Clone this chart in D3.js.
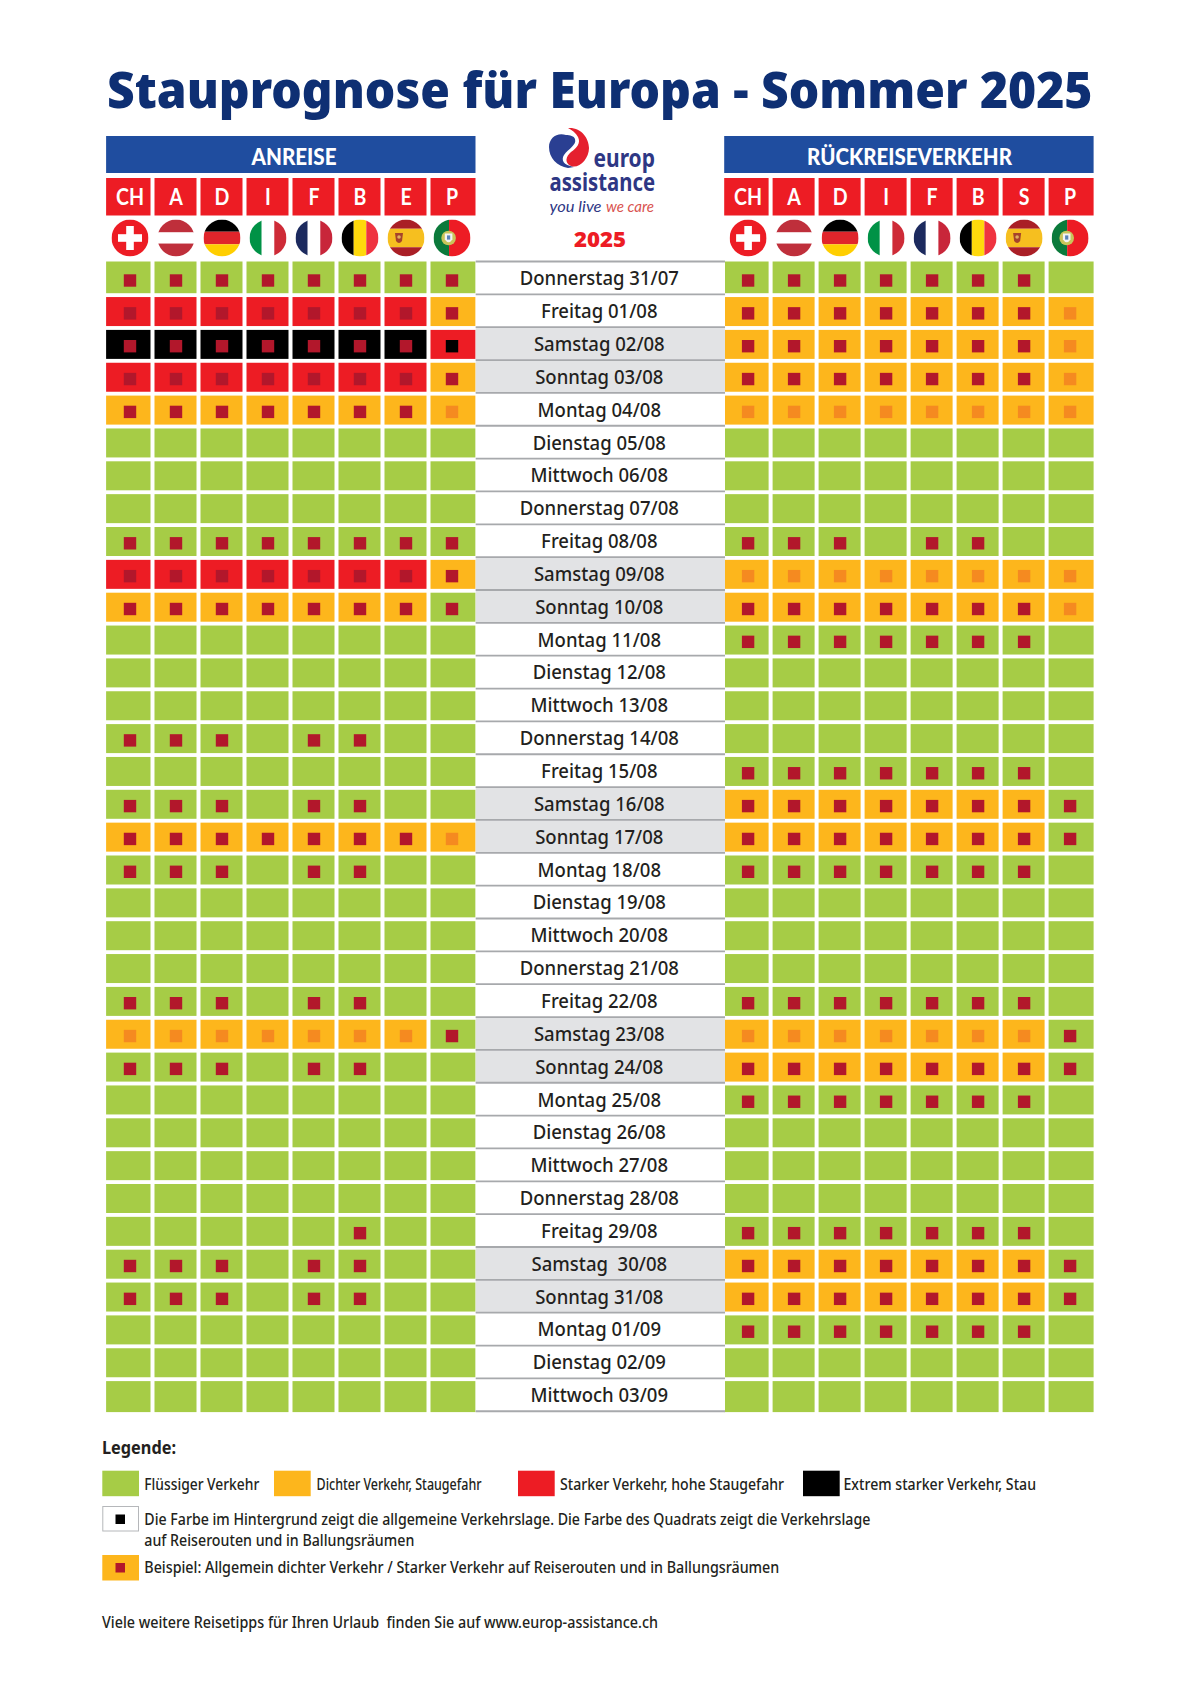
<!DOCTYPE html>
<html lang="de">
<head>
<meta charset="utf-8">
<title>Stauprognose für Europa - Sommer 2025</title>
<script src="https://cdn.jsdelivr.net/npm/d3@7"></script>
<style>
	html, body { margin: 0; padding: 0; background: #fff; }
	svg { display: block; }
	text { font-family: "Noto Sans", sans-serif; fill: #231f20; }
</style>
</head>
<body>
<div class="chart"></div>
<script>
// days, one row each
var days = [
	'Donnerstag 31/07', 'Freitag 01/08', 'Samstag 02/08', 'Sonntag 03/08', 'Montag 04/08',
	'Dienstag 05/08', 'Mittwoch 06/08', 'Donnerstag 07/08', 'Freitag 08/08', 'Samstag 09/08',
	'Sonntag 10/08', 'Montag 11/08', 'Dienstag 12/08', 'Mittwoch 13/08', 'Donnerstag 14/08',
	'Freitag 15/08', 'Samstag 16/08', 'Sonntag 17/08', 'Montag 18/08', 'Dienstag 19/08',
	'Mittwoch 20/08', 'Donnerstag 21/08', 'Freitag 22/08', 'Samstag 23/08', 'Sonntag 24/08',
	'Montag 25/08', 'Dienstag 26/08', 'Mittwoch 27/08', 'Donnerstag 28/08', 'Freitag 29/08',
	'Samstag  30/08', 'Sonntag 31/08', 'Montag 01/09', 'Dienstag 02/09', 'Mittwoch 03/09'
];

var anreiseCountries = ['CH', 'A', 'D', 'I', 'F', 'B', 'E', 'P'];
var rueckCountries = ['CH', 'A', 'D', 'I', 'F', 'B', 'S', 'P'];

// g = fluessig, a = dicht, r = stark, k = extrem, one letter per country
var anreiseBackground = [
	'gggggggg', 'rrrrrrra', 'kkkkkkkr', 'rrrrrrra', 'aaaaaaaa',
	'gggggggg', 'gggggggg', 'gggggggg', 'gggggggg', 'rrrrrrra',
	'aaaaaaag', 'gggggggg', 'gggggggg', 'gggggggg', 'gggggggg',
	'gggggggg', 'gggggggg', 'aaaaaaaa', 'gggggggg', 'gggggggg',
	'gggggggg', 'gggggggg', 'gggggggg', 'aaaaaaag', 'gggggggg',
	'gggggggg', 'gggggggg', 'gggggggg', 'gggggggg', 'gggggggg',
	'gggggggg', 'gggggggg', 'gggggggg', 'gggggggg', 'gggggggg'
];
// same letters for the small squares, o = orange square, . = no square
var anreiseSquares = [
	'rrrrrrrr', 'rrrrrrrr', 'rrrrrrrk', 'rrrrrrrr', 'rrrrrrro',
	'........', '........', '........', 'rrrrrrrr', 'rrrrrrrr',
	'rrrrrrrr', '........', '........', '........', 'rrr.rr..',
	'........', 'rrr.rr..', 'rrrrrrro', 'rrr.rr..', '........',
	'........', '........', 'rrr.rr..', 'ooooooor', 'rrr.rr..',
	'........', '........', '........', '........', '.....r..',
	'rrr.rr..', 'rrr.rr..', '........', '........', '........'
];
var rueckBackground = [
	'gggggggg', 'aaaaaaaa', 'aaaaaaaa', 'aaaaaaaa', 'aaaaaaaa',
	'gggggggg', 'gggggggg', 'gggggggg', 'gggggggg', 'aaaaaaaa',
	'aaaaaaaa', 'gggggggg', 'gggggggg', 'gggggggg', 'gggggggg',
	'gggggggg', 'aaaaaaag', 'aaaaaaag', 'gggggggg', 'gggggggg',
	'gggggggg', 'gggggggg', 'gggggggg', 'aaaaaaag', 'aaaaaaag',
	'gggggggg', 'gggggggg', 'gggggggg', 'gggggggg', 'gggggggg',
	'aaaaaaag', 'aaaaaaag', 'gggggggg', 'gggggggg', 'gggggggg'
];
var rueckSquares = [
	'rrrrrrr.', 'rrrrrrro', 'rrrrrrro', 'rrrrrrro', 'oooooooo',
	'........', '........', '........', 'rrr.rr..', 'oooooooo',
	'rrrrrrro', 'rrrrrrr.', '........', '........', '........',
	'rrrrrrr.', 'rrrrrrrr', 'rrrrrrrr', 'rrrrrrr.', '........',
	'........', '........', 'rrrrrrr.', 'ooooooor', 'rrrrrrrr',
	'rrrrrrr.', '........', '........', '........', 'rrrrrrr.',
	'rrrrrrrr', 'rrrrrrrr', 'rrrrrrr.', '........', '........'
];

var legendLevels = ['g', 'a', 'r', 'k'];
var legendLabels = ['Flüssiger Verkehr', 'Dichter Verkehr, Staugefahr', 'Starker Verkehr, hohe Staugefahr', 'Extrem starker Verkehr, Stau'];
var legendNote = ['Die Farbe im Hintergrund zeigt die allgemeine Verkehrslage. Die Farbe des Quadrats zeigt die Verkehrslage', 'auf Reiserouten und in Ballungsräumen'];
var legendExample = 'Beispiel: Allgemein dichter Verkehr / Starker Verkehr auf Reiserouten und in Ballungsräumen';
var footerText = 'Viele weitere Reisetipps für Ihren Urlaub  finden Sie auf www.europ-assistance.ch';

var width = 1200, height = 1697;
var rowStep = 32.85, rowTop = 264.2, cellHeight = 29;
var colStep = 46, cellWidth = 42, edgeLeft = 2.4, edgeRight = 3;
var centerLeft = 475.7, centerRight = 725;

var colors = { g: '#a6cc46', a: '#fdb61c', r: '#ed1c24', k: '#000000' };
var squareColors = { r: '#b2172b', o: '#f58a20', k: '#000000' };
var levelColor = d3.scaleOrdinal().domain(Object.keys(colors)).range(Object.values(colors));
var squareColor = d3.scaleOrdinal().domain(Object.keys(squareColors)).range(Object.values(squareColors));

var y = d3.scaleBand().domain(d3.range(days.length)).range([rowTop, rowTop + rowStep * days.length]);

var svg = d3.select('.chart').append('svg')
	.attr('width', width)
	.attr('height', height)
	.attr('viewBox', '0 0 ' + width + ' ' + height);

// squeeze text to the narrow look of the original typeface
function condense(sel, factor) {
	sel.each(function() {
		d3.select(this)
			.attr('textLength', this.getComputedTextLength() * factor)
			.attr('lengthAdjust', 'spacingAndGlyphs');
	});
	return sel;
}

function fit(sel, length) {
	return sel.attr('textLength', length).attr('lengthAdjust', 'spacingAndGlyphs');
}

// title
fit(svg.append('text')
	.attr('x', 107)
	.attr('y', 108)
	.attr('font-size', 50)
	.attr('font-weight', 900)
	.style('fill', '#0e2f73')
	.text('Stauprognose für Europa - Sommer 2025'), 985.5);

// one flag: stripes clipped by a circle
var flagStripes = {
	CH: { dir: 'h', colors: ['#ed1c24'], sizes: [1] },
	A: { dir: 'h', colors: ['#bf2f3b', '#ffffff', '#bf2f3b'], sizes: [0.35, 0.3, 0.35] },
	D: { dir: 'h', colors: ['#000000', '#e0252b', '#ffce00'], sizes: [0.33, 0.34, 0.33] },
	I: { dir: 'v', colors: ['#009246', '#ffffff', '#ce2b37'], sizes: [0.33, 0.34, 0.33] },
	F: { dir: 'v', colors: ['#1c2a5e', '#ffffff', '#c8263a'], sizes: [0.33, 0.34, 0.33] },
	B: { dir: 'v', colors: ['#000000', '#ffd90c', '#ef3340'], sizes: [0.33, 0.34, 0.33] },
	E: { dir: 'h', colors: ['#aa1f26', '#f6bf1f', '#aa1f26'], sizes: [0.25, 0.5, 0.25] },
	P: { dir: 'v', colors: ['#0b7a3b', '#ed1c24'], sizes: [0.42, 0.58] }
};
var flagRadius = 18.5;

svg.append('defs').append('clipPath')
	.attr('id', 'flagClip')
	.append('circle')
	.attr('r', flagRadius);

function drawFlag(g, code) {
	var flag = flagStripes[code];
	var inner = g.append('g').attr('clip-path', 'url(#flagClip)');
	var at = -flagRadius;
	flag.colors.forEach(function(c, i) {
		var size = flag.sizes[i] * flagRadius * 2;
		inner.append('rect')
			.attr('x', flag.dir === 'v' ? at : -flagRadius)
			.attr('y', flag.dir === 'h' ? at : -flagRadius)
			.attr('width', flag.dir === 'v' ? size : flagRadius * 2)
			.attr('height', flag.dir === 'h' ? size : flagRadius * 2)
			.attr('fill', c);
		at += size;
	});
	if (code === 'CH') {
		inner.append('rect').attr('x', -12).attr('y', -3.8).attr('width', 24).attr('height', 7.6).attr('fill', '#fff');
		inner.append('rect').attr('x', -3.8).attr('y', -12).attr('width', 7.6).attr('height', 24).attr('fill', '#fff');
	}
	if (code === 'E') {
		inner.append('path').attr('d', 'M-11,-5L-3,-5L-4,3Q-7,7 -10,3Z').attr('fill', '#a5432b');
		inner.append('circle').attr('cx', -7).attr('cy', -1).attr('r', 1.8).attr('fill', '#e0b060');
	}
	if (code === 'P') {
		inner.append('circle').attr('cx', -3.4).attr('r', 7.3).attr('fill', '#c9c45a');
		inner.append('path').attr('d', 'M-7.2,-4.5L0.4,-4.5L0.4,1.5Q-3.4,7 -7.2,1.5Z').attr('fill', '#f3f3f3');
		inner.append('rect').attr('x', -5).attr('y', -2.6).attr('width', 3.2).attr('height', 4.2).attr('fill', '#5b82b8');
	}
}

// one of the two wings of the table
function drawSide(left, titleX, title, titleWidth, countries, background, squares) {
	var x = d3.scaleBand().domain(d3.range(countries.length)).range([left, left + colStep * countries.length]);
	var last = countries.length - 1;
	var cellX = function(i) { return x(i) - (i === 0 ? edgeLeft : 0); };
	var cellW = function(i) { return cellWidth + (i === 0 ? edgeLeft : i === last ? edgeRight : 0); };
	var center = function(i) { return x(i) + 21.5; };
	var outerL = cellX(0), outerR = cellX(last) + cellW(last);

	var g = svg.append('g');

	g.append('rect')
		.attr('x', outerL)
		.attr('y', 136)
		.attr('width', outerR - outerL)
		.attr('height', 37)
		.attr('fill', '#1f4d9f');

	fit(g.append('text')
		.attr('x', titleX)
		.attr('y', 165)
		.attr('text-anchor', 'middle')
		.attr('font-size', 22)
		.attr('font-weight', 900)
		.style('font-family', 'Lato')
		.style('fill', '#fff')
		.text(title), titleWidth);

	g.selectAll('.country')
		.data(countries)
		.enter()
		.append('rect')
		.attr('class', 'country')
		.attr('x', function(d, i) { return cellX(i); })
		.attr('y', 178)
		.attr('width', function(d, i) { return cellW(i); })
		.attr('height', 37.5)
		.attr('fill', colors.r);

	condense(g.selectAll('.countryLabel')
		.data(countries)
		.enter()
		.append('text')
		.attr('class', 'countryLabel')
		.attr('x', function(d, i) { return center(i); })
		.attr('y', 205)
		.attr('text-anchor', 'middle')
		.attr('font-size', 23)
		.attr('font-weight', 700)
		.style('font-family', 'Lato')
		.style('fill', '#fff')
		.text(function(d) { return d; }), 0.85);

	g.selectAll('.flag')
		.data(countries)
		.enter()
		.append('g')
		.attr('class', 'flag')
		.attr('transform', function(d, i) { return 'translate(' + center(i) + ',238)'; })
		.each(function(d) {
			drawFlag(d3.select(this), d === 'S' ? 'E' : d);
		});

	// background cells and the small squares, row by row
	var rows = g.selectAll('.row')
		.data(days)
		.enter()
		.append('g')
		.attr('class', 'row');

	rows.selectAll('rect.cell')
		.data(function(d, r) {
			return background[r].split('').map(function(level, i) { return { r: r, i: i, level: level }; });
		})
		.enter()
		.append('rect')
		.attr('class', 'cell')
		.attr('x', function(d) { return cellX(d.i); })
		.attr('y', function(d) { return y(d.r) - (d.r === 0 ? 2.7 : 0); })
		.attr('width', function(d) { return cellW(d.i); })
		.attr('height', function(d) { return cellHeight + (d.r === 0 ? 2.7 : d.r === days.length - 1 ? 2 : 0); })
		.attr('fill', function(d) { return levelColor(d.level); });

	rows.selectAll('rect.square')
		.data(function(d, r) {
			return squares[r].split('').map(function(level, i) { return { r: r, i: i, level: level }; })
				.filter(function(s) { return s.level !== '.'; });
		})
		.enter()
		.append('rect')
		.attr('class', 'square')
		.attr('x', function(d) { return center(d.i) - 6.2; })
		.attr('y', function(d) { return y(d.r) + 16.3 - 6.2; })
		.attr('width', 12.4)
		.attr('height', 12.4)
		.attr('fill', function(d) { return squareColor(d.level); });
}

drawSide(108.5, 294, 'ANREISE', 85, anreiseCountries, anreiseBackground, anreiseSquares);
drawSide(726.6, 909.5, 'RÜCKREISEVERKEHR', 205, rueckCountries, rueckBackground, rueckSquares);

// middle column with the dates
var dayRows = svg.append('g').selectAll('g')
	.data(days)
	.enter()
	.append('g')
	.attr('transform', function(d, i) { return 'translate(0,' + (y(i) - 2.7) + ')'; });

dayRows.append('rect')
	.attr('x', centerLeft)
	.attr('width', centerRight - centerLeft)
	.attr('height', rowStep)
	.attr('fill', function(d) { return /^(Samstag|Sonntag)/.test(d) ? '#e2e3e5' : '#fff'; });

condense(dayRows.append('text')
	.attr('x', 599.3)
	.attr('y', 23.8)
	.attr('text-anchor', 'middle')
	.attr('font-size', 19)
	.attr('font-weight', 500)
	.style('white-space', 'pre')
	.text(function(d) { return d; }), 0.975);

svg.append('g').selectAll('line')
	.data(d3.range(days.length + 1))
	.enter()
	.append('line')
	.attr('x1', centerLeft)
	.attr('x2', centerRight)
	.attr('y1', function(i) { return rowTop + rowStep * i - 2.7; })
	.attr('y2', function(i) { return rowTop + rowStep * i - 2.7; })
	.attr('stroke', '#a7a9ac')
	.attr('stroke-width', 1.8);

// logo
var logo = svg.append('g').attr('transform', 'translate(569,148)');
logo.append('path')
	.attr('d', 'M-3,-13C-12,-16 -20,-10 -20,-1C-20,10 -12,18 -1,20L5,19C-6,17 -8,12 -5,7C-1,1 8,-3 6,-9C5,-12 1,-13 -3,-13Z')
	.attr('fill', '#2a3f92');
logo.append('path')
	.attr('d', 'M-1,-20C12,-21 20,-10 20,0C20,11 10,21 2,18C-5,15 -3,8 2,4C8,0 12,-5 9,-11C7,-15 3,-18 -1,-20Z')
	.attr('fill', '#e5202e');

fit(svg.append('text')
	.attr('x', 593.5).attr('y', 167)
	.attr('font-size', 25).attr('font-weight', 700)
	.style('fill', '#2e3784')
	.text('europ'), 61.5);
fit(svg.append('text')
	.attr('x', 549.5).attr('y', 190.5)
	.attr('font-size', 25).attr('font-weight', 700)
	.style('fill', '#2e3784')
	.text('assistance'), 105.5);
fit(svg.append('text')
	.attr('x', 549.5).attr('y', 212)
	.attr('font-size', 16).attr('font-style', 'italic')
	.style('font-family', 'Lato').style('fill', '#2e3784')
	.text('you live'), 52);
fit(svg.append('text')
	.attr('x', 606).attr('y', 212)
	.attr('font-size', 16).attr('font-style', 'italic')
	.style('font-family', 'Lato').style('fill', '#d9534f')
	.text('we care'), 48);
fit(svg.append('text')
	.attr('x', 574).attr('y', 247)
	.attr('font-size', 21).attr('font-weight', 900)
	.style('fill', '#ed1c24')
	.text('2025'), 52);

// legend
var legendSwatchX = [102.3, 274, 518, 803];
var legendTextX = [144.3, 316.5, 560, 843.5];
var legendTextWidth = [115, 165, 224, 192.5];
var swatchW = 36.7, swatchH = 25.5;

fit(svg.append('text')
	.attr('x', 102).attr('y', 1454)
	.attr('font-size', 17).attr('font-weight', 700)
	.text('Legende:'), 74);

var legend = svg.append('g').selectAll('g')
	.data(legendLabels)
	.enter()
	.append('g');

legend.append('rect')
	.attr('x', function(d, i) { return legendSwatchX[i]; })
	.attr('y', 1470.7)
	.attr('width', swatchW)
	.attr('height', swatchH)
	.attr('fill', function(d, i) { return levelColor(legendLevels[i]); });

legend.append('text')
	.attr('x', function(d, i) { return legendTextX[i]; })
	.attr('y', 1490)
	.attr('font-size', 16)
	.attr('font-weight', 500)
	.attr('textLength', function(d, i) { return legendTextWidth[i]; })
	.attr('lengthAdjust', 'spacingAndGlyphs')
	.text(function(d) { return d; });

svg.append('rect')
	.attr('x', 102.8).attr('y', 1506.5)
	.attr('width', swatchW - 1).attr('height', swatchH - 1)
	.attr('fill', '#fff')
	.attr('stroke', '#b5b7ba')
	.attr('stroke-width', 1);
svg.append('rect')
	.attr('x', 115.5).attr('y', 1514.5)
	.attr('width', 9.5).attr('height', 9.5)
	.attr('fill', squareColors.k);

fit(svg.append('text').attr('x', 144.3).attr('y', 1525).attr('font-size', 16).attr('font-weight', 500).text(legendNote[0]), 726);
fit(svg.append('text').attr('x', 144.3).attr('y', 1545.7).attr('font-size', 16).attr('font-weight', 500).text(legendNote[1]), 270);

svg.append('rect')
	.attr('x', 102.3).attr('y', 1555)
	.attr('width', swatchW).attr('height', swatchH)
	.attr('fill', colors.a);
svg.append('rect')
	.attr('x', 115.5).attr('y', 1563)
	.attr('width', 9.5).attr('height', 9.5)
	.attr('fill', squareColors.r);

fit(svg.append('text').attr('x', 144.3).attr('y', 1573).attr('font-size', 16).attr('font-weight', 500).text(legendExample), 635);

fit(svg.append('text')
	.attr('x', 102).attr('y', 1628)
	.attr('font-size', 16)
	.attr('font-weight', 500)
	.style('white-space', 'pre')
	.text(footerText), 556);
</script>
</body>
</html>
